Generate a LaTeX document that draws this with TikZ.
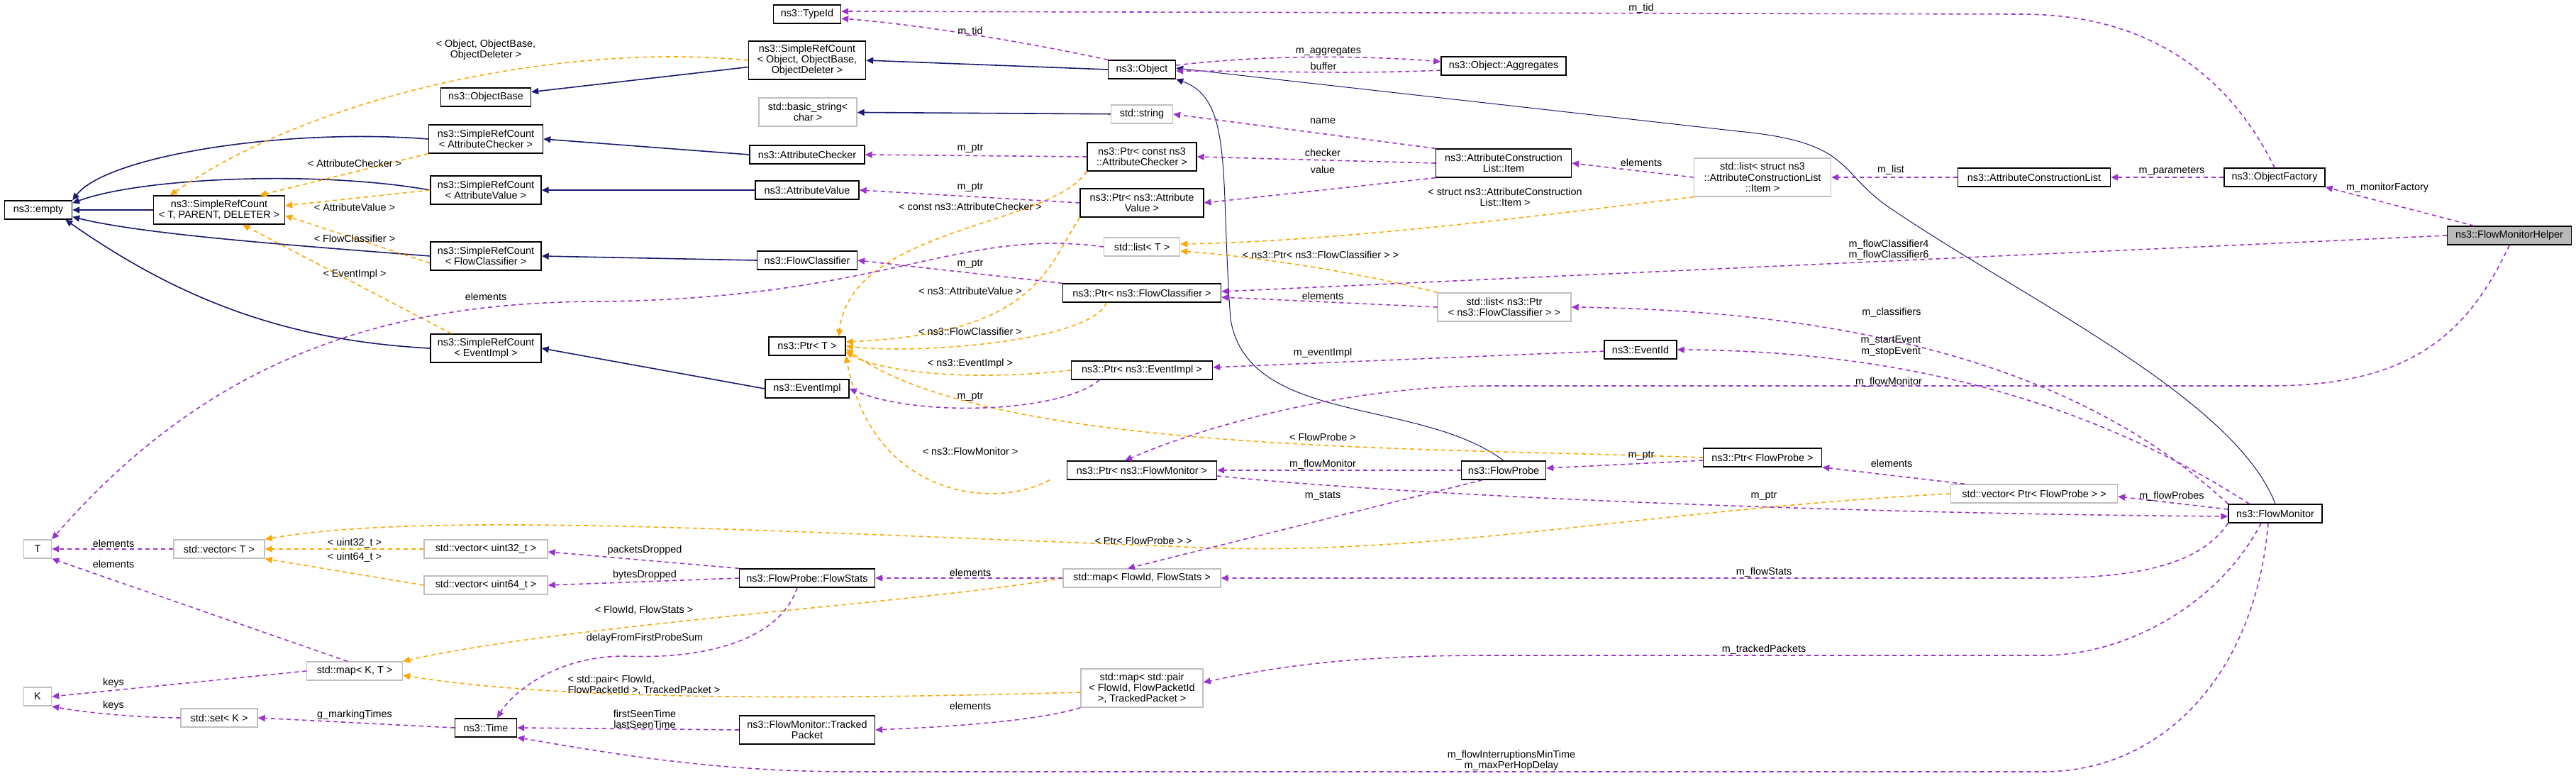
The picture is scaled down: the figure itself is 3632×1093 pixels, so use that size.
\documentclass[tikz,border=0pt]{standalone}
\usepackage{fontspec}
\setmainfont{Liberation Sans}
\usetikzlibrary{arrows.meta}
\definecolor{navy}{HTML}{191970}
\definecolor{purp}{HTML}{9A32CD}
\definecolor{orng}{HTML}{FFA500}
\newcommand\fs{\fontsize{7.2}{7.6}\selectfont}
\tikzset{
 cls/.style={draw=black, fill=white, font=\fs, align=center, inner sep=1pt, line width=0.7pt},
 gcls/.style={cls, draw=black!25},
 one/.style={minimum height=13pt},
 two/.style={minimum height=20pt},
 three/.style={minimum height=27pt},
 lab/.style={font=\fs, inner sep=0pt, align=center},
 tip/.style={-{Triangle[length=5pt,width=4.5pt]}},
 inhline/.style={tip, draw=navy, line width=0.8pt},
 thininh/.style={tip, draw=navy, line width=0.5pt},
 useline/.style={tip, draw=purp, line width=0.8pt, dash pattern=on 3pt off 2.5pt},
 tplline/.style={tip, draw=orng, line width=0.8pt, dash pattern=on 3pt off 2.5pt},
}
\begin{document}
\begin{tikzpicture}[x=0.5pt,y=-0.5pt]
\useasboundingbox[fill=white] (0,0) rectangle (3632,1093);
% inheritance
\path (0,0);
\begin{scope}[on background layer/.style={}]
\end{scope}
% nodes
\node[cls,one,minimum width=47.5pt] (empty) at (54,296) {ns3::empty};
\node[cls,two,minimum width=92.5pt] (srcTPD) at (309,296) {ns3::SimpleRefCount\\< T, PARENT, DELETER >};
\node[cls,one,minimum width=63.5pt] (ObjectBase) at (685,137) {ns3::ObjectBase};
\node[cls,three,minimum width=82.5pt] (srcObj) at (1138,85) {ns3::SimpleRefCount\\< Object, ObjectBase,\\ObjectDeleter >};
\node[cls,one,minimum width=47.5pt] (TypeId) at (1138,20) {ns3::TypeId};
\node[gcls,two,minimum width=69pt] (basicstr) at (1139,158) {std::basic\_string<\\char >};
\node[cls,two,minimum width=80.5pt] (srcAC) at (685,196) {ns3::SimpleRefCount\\< AttributeChecker >};
\node[cls,one,minimum width=81pt] (AC) at (1138,218) {ns3::AttributeChecker};
\node[cls,two,minimum width=78pt] (srcAV) at (685,268) {ns3::SimpleRefCount\\< AttributeValue >};
\node[cls,one,minimum width=73pt] (AV) at (1138,268) {ns3::AttributeValue};
\node[cls,two,minimum width=78pt] (srcFC) at (685,361) {ns3::SimpleRefCount\\< FlowClassifier >};
\node[cls,one,minimum width=70.5pt] (FC) at (1138,367) {ns3::FlowClassifier};
\node[cls,two,minimum width=78pt] (srcEI) at (685,491) {ns3::SimpleRefCount\\< EventImpl >};
\node[cls,one,minimum width=54pt] (PtrT) at (1138,488) {ns3::Ptr< T >};
\node[cls,one,minimum width=59pt] (EI) at (1138,548) {ns3::EventImpl};
\node[cls,one,minimum width=47.5pt] (Object) at (1610,98) {ns3::Object};
\node[cls,one,minimum width=88pt] (Aggr) at (2120,93) {ns3::Object::Aggregates};
\node[gcls,one,minimum width=43.5pt] (string) at (1610,161) {std::string};
\node[cls,two,minimum width=77pt] (PtrCAC) at (1610,221) {ns3::Ptr< const ns3\\::AttributeChecker >};
\node[cls,two,minimum width=87pt] (PtrAV) at (1610,286) {ns3::Ptr< ns3::Attribute\\Value >};
\node[cls,two,minimum width=95.5pt] (Item) at (2120,230) {ns3::AttributeConstruction\\List::Item};
\node[gcls,one,minimum width=53.5pt] (listT) at (1610,348) {std::list< T >};
\node[cls,one,minimum width=111.5pt] (PtrFC) at (1610,413) {ns3::Ptr< ns3::FlowClassifier >};
\node[gcls,two,minimum width=94pt] (listPFC) at (2121,433) {std::list< ns3::Ptr\\< ns3::FlowClassifier > >};
\node[cls,one,minimum width=51pt] (EventId) at (2313,493) {ns3::EventId};
\node[cls,one,minimum width=99.5pt] (PtrEI) at (1610,522) {ns3::Ptr< ns3::EventImpl >};
\node[gcls,three,minimum width=96.5pt] (listItem) at (2485,250) {std::list< struct ns3\\::AttributeConstructionList\\::Item >};
\node[cls,one,minimum width=107.5pt] (ACL) at (2868,250) {ns3::AttributeConstructionList};
\node[cls,one,minimum width=71pt] (OF) at (3207,250) {ns3::ObjectFactory};
\node[cls,one,minimum width=87.5pt,fill=black!27] (FMH) at (3538,332) {ns3::FlowMonitorHelper};
\node[gcls,one,minimum width=19.5pt] (T) at (53,774) {T};
\node[gcls,one,minimum width=64pt] (vecT) at (309,774) {std::vector< T >};
\node[gcls,one,minimum width=87pt] (vec32) at (685,774) {std::vector< uint32\_t >};
\node[gcls,one,minimum width=87pt] (vec64) at (685,825) {std::vector< uint64\_t >};
\node[cls,one,minimum width=95.5pt] (FlowStats) at (1138,815) {ns3::FlowProbe::FlowStats};
\node[gcls,one,minimum width=67.5pt] (mapKT) at (500,946) {std::map< K, T >};
\node[gcls,one,minimum width=19.5pt] (K) at (53,982) {K};
\node[gcls,one,minimum width=54pt] (setK) at (309,1012) {std::set< K >};
\node[cls,one,minimum width=43.5pt] (Time) at (685,1026) {ns3::Time};
\node[cls,two,minimum width=95.5pt] (TP) at (1138,1029) {ns3::FlowMonitor::Tracked\\Packet};
\node[cls,one,minimum width=105.5pt] (PtrFM) at (1610,663) {ns3::Ptr< ns3::FlowMonitor >};
\node[cls,one,minimum width=59.5pt] (FP) at (2120,663) {ns3::FlowProbe};
\node[gcls,one,minimum width=111pt] (mapFS) at (1610,815) {std::map< FlowId, FlowStats >};
\node[gcls,three,minimum width=86pt] (mapPair) at (1610,970) {std::map< std::pair\\< FlowId, FlowPacketId\\>, TrackedPacket >};
\node[cls,one,minimum width=83.5pt] (PtrFP) at (2485,645) {ns3::Ptr< FlowProbe >};
\node[gcls,one,minimum width=117.5pt] (vecPFP) at (2868,696) {std::vector< Ptr< FlowProbe > >};
\node[cls,one,minimum width=66pt] (FM) at (3208,724) {ns3::FlowMonitor};
% inheritance
\draw[inhline] (srcObj) -- (ObjectBase);
\draw[inhline] (Object.west) -- (srcObj.east);
\draw[inhline] (string) -- (basicstr);
\draw[inhline] (AC.west) -- (srcAC.east);
\draw[inhline] (AV) -- (srcAV);
\draw[inhline] (FC.west) -- (srcFC.east);
\draw[inhline] (EI.west) -- (srcEI.east);
\draw[inhline] (srcTPD) -- (empty);
\draw[inhline] (srcAC.west) .. controls (400,180) and (150,220) .. (empty.north east);
\draw[inhline] (srcAV.west) .. controls (450,240) and (200,250) .. ([yshift=-2pt]empty.north east);
\draw[inhline] (srcFC.west) .. controls (400,345) and (200,330) .. ([yshift=2pt]empty.south east);
\draw[inhline] (srcEI.west) .. controls (400,480) and (250,420) .. ([xshift=-5pt]empty.south east);
\draw[thininh] (FP.north) .. controls (2000,560) and (1760,600) .. (1735,450) .. controls (1720,250) and (1740,140) .. (Object.south east);
\draw[thininh] (FM.north) .. controls (3150,560) and (2850,420) .. (2660,290) .. controls (2590,240) and (2610,200) .. (2450,185) -- ([yshift=1pt]Object.east);
% template
\draw[tplline] (srcObj.west) .. controls (800,60) and (450,130) .. ([xshift=12pt]srcTPD.north west);
\draw[tplline] (srcAC.south west) -- ([xshift=-18pt]srcTPD.north east);
\draw[tplline] (srcAV.west) -- ([yshift=3pt]srcTPD.east);
\draw[tplline] ([yshift=-5pt]srcFC.west) -- ([yshift=-4pt]srcTPD.east);
\draw[tplline] ([xshift=15pt]srcEI.north west) -- ([xshift=-30pt]srcTPD.south east);
\draw[tplline] (PtrCAC.south west) .. controls (1480,320) and (1200,320) .. ([xshift=-5pt]PtrT.north east);
\draw[tplline] (PtrAV.south west) .. controls (1475,380) and (1460,470) .. ([yshift=3pt]PtrT.east);
\draw[tplline] ([xshift=-25pt]PtrFC.south) .. controls (1540,480) and (1300,500) .. (PtrT.east);
\draw[tplline] (PtrEI.west) .. controls (1350,540) and (1230,520) .. ([yshift=3pt]PtrT.south east);
\draw[tplline] ([xshift=-12pt]PtrFM.south west) .. controls (1400,720) and (1230,700) .. (PtrT.south east);
\draw[tplline] (PtrFP.west) .. controls (2000,630) and (1400,640) .. ([yshift=-2pt]PtrT.east);
\draw[tplline] (listItem.south west) .. controls (2200,300) and (1900,340) .. ([yshift=2pt]listT.east);
\draw[tplline] (listPFC.north west) .. controls (1900,380) and (1750,360) .. ([yshift=-3pt]listT.east);
\draw[tplline] (vecPFP.west) .. controls (2300,720) and (2000,790) .. (1650,770) .. controls (1100,750) and (600,720) .. (vecT.north east);
\draw[tplline] (vec32) -- (vecT);
\draw[tplline] (vec64.west) -- (vecT.south east);
\draw[tplline] (mapFS.west) .. controls (1300,850) and (800,880) .. (mapKT.north east);
\draw[tplline] ([yshift=-3pt]mapPair.west) .. controls (1200,985) and (800,990) .. ([yshift=-3pt]mapKT.east);
% usage
\draw[useline] (Object.north west) .. controls (1450,60) and (1300,35) .. ([yshift=-3pt]TypeId.east);
\draw[useline] (OF.north) .. controls (3130,80) and (3000,20) .. (2850,20) -- ([yshift=2pt]TypeId.east);
\draw[useline] ([yshift=3pt]Object.east) .. controls (1800,75) and (1950,80) .. ([yshift=3pt]Aggr.west);
\draw[useline] ([yshift=-3pt]Aggr.west) .. controls (1900,105) and (1800,100) .. ([yshift=-1pt]Object.east);
\draw[useline] (Item.north west) -- (string.east);
\draw[useline] (Item.west) -- (PtrCAC.east);
\draw[useline] (Item.south west) -- (PtrAV.east);
\draw[useline] (PtrCAC.west) -- (AC.east);
\draw[useline] (PtrAV.west) -- (AV.east);
\draw[useline] (PtrFC.north west) -- (FC.east);
\draw[useline] ([xshift=-30pt]PtrEI.south) .. controls (1500,580) and (1300,590) .. (EI.east);
\draw[useline] (listT.west) .. controls (1350,320) and (1250,420) .. (850,425) .. controls (550,425) and (300,500) .. (T.north east);
\draw[useline] (listItem.west) -- (Item.east);
\draw[useline] (ACL) -- (listItem);
\draw[useline] (OF) -- (ACL);
\draw[useline] ([xshift=-25pt]FMH.north) -- (OF.south east);
\draw[useline] (FMH.west) -- ([yshift=1pt]PtrFC.east);
\draw[useline] (FMH.south) .. controls (3480,470) and (3400,544) .. (3200,544) -- (2100,544) .. controls (1900,544) and (1700,600) .. ([xshift=-12pt]PtrFM.north);
\draw[useline] (listPFC.west) -- ([yshift=-3pt]PtrFC.east);
\draw[useline] (FM.north west) .. controls (3000,580) and (2750,440) .. (listPFC.east);
\draw[useline] ([xshift=15pt]FM.north west) .. controls (3000,600) and (2750,495) .. (EventId.east);
\draw[useline] (EventId) -- (PtrEI);
\draw[useline] (FP) -- (PtrFM);
\draw[useline] (PtrFP) -- (FP);
\draw[useline] ([xshift=10pt]vecPFP.north west) -- (PtrFP.south east);
\draw[useline] ([yshift=3pt]FM.west) -- ([yshift=-2pt]vecPFP.east);
\draw[useline] ([yshift=-4pt]PtrFM.east) .. controls (2000,700) and (2600,724) .. ([yshift=-2pt]FM.west);
\draw[useline] ([xshift=-15pt]FP.south) -- ([xshift=-10pt]mapFS.north);
\draw[useline] (mapFS) -- (FlowStats);
\draw[useline] (FM.south west) .. controls (3100,800) and (3000,815) .. (2880,815) -- (mapFS.east);
\draw[useline] ([xshift=-10pt]FM.south) .. controls (3130,850) and (3000,924) .. (2880,924) -- (2100,924) .. controls (1900,924) and (1800,940) .. ([yshift=4pt]mapPair.east);
\draw[useline] (mapPair.south west) .. controls (1450,1020) and (1300,1026) .. (TP.east);
\draw[useline] (FlowStats.north west) -- ([yshift=-2pt]vec32.east);
\draw[useline] (FlowStats.west) -- (vec64.east);
\draw[useline] ([xshift=-7pt]FlowStats.south) .. controls (1100,900) and (1000,930) .. (880,925) .. controls (780,925) and (720,980) .. ([xshift=8pt]Time.north);
\draw[useline] (TP.west) -- (Time.east);
\draw[useline] ([xshift=-5pt]FM.south) .. controls (3180,950) and (3050,1088) .. (2880,1088) -- (1200,1088) .. controls (1000,1088) and (850,1060) .. (Time.south east);
\draw[useline] (Time.west) -- (setK.east);
\draw[useline] (vecT) -- (T);
\draw[useline] ([xshift=-5pt]mapKT.north) -- (T.south east);
\draw[useline] (mapKT.west) -- (K.east);
\draw[useline] (setK.west) .. controls (200,1012) and (120,1005) .. (K.south east);
% labels
\node[lab] (l1) at (685,70) {< Object, ObjectBase,\\ObjectDeleter >};
\node[lab] (l2) at (500,230) {< AttributeChecker >};
\node[lab] (l3) at (500,292) {< AttributeValue >};
\node[lab] (l4) at (500,336) {< FlowClassifier >};
\node[lab] (l5) at (500,387) {< EventImpl >};
\node[lab] (l6) at (1368,291) {< const ns3::AttributeChecker >};
\node[lab] (l7) at (1368,410) {< ns3::AttributeValue >};
\node[lab] (l8) at (1368,467) {< ns3::FlowClassifier >};
\node[lab] (l9) at (1368,513) {< ns3::EventImpl >};
\node[lab] (l10) at (1368,636) {< ns3::FlowMonitor >};
\node[lab] (l11) at (1865,616) {< FlowProbe >};
\node[lab] (l12) at (2122,278) {< struct ns3::AttributeConstruction\\List::Item >};
\node[lab] (l13) at (1862,359) {< ns3::Ptr< ns3::FlowClassifier > >};
\node[lab] (l14) at (1612,762) {< Ptr< FlowProbe > >};
\node[lab] (l15) at (500,766) {< uint32\_t >};
\node[lab] (l16) at (500,786) {< uint64\_t >};
\node[lab] (l17) at (908,860) {< FlowId, FlowStats >};
\node[lab,align=left] (l18) at (908,966) {< std::pair< FlowId,\\FlowPacketId >, TrackedPacket >};
\node[lab] (u1) at (1368,45) {m\_tid};
\node[lab] (u2) at (2314,12) {m\_tid};
\node[lab] (u3) at (1873,72) {m\_aggregates};
\node[lab] (u4) at (1866,93) {buffer};
\node[lab] (u5) at (1865,171) {name};
\node[lab] (u6) at (1865,215) {checker};
\node[lab] (u7) at (1865,239) {value};
\node[lab] (u8) at (1368,209) {m\_ptr};
\node[lab] (u9) at (1368,264) {m\_ptr};
\node[lab] (u10) at (1368,372) {m\_ptr};
\node[lab] (u11) at (1368,559) {m\_ptr};
\node[lab] (u12) at (685,418) {elements};
\node[lab] (u13) at (2314,229) {elements};
\node[lab] (u14) at (2666,240) {m\_list};
\node[lab] (u15) at (3062,241) {m\_parameters};
\node[lab] (u16) at (3366,265) {m\_monitorFactory};
\node[lab] (u17) at (2663,352) {m\_flowClassifier4\\m\_flowClassifier6};
\node[lab] (u18) at (2663,539) {m\_flowMonitor};
\node[lab] (u19) at (1865,417) {elements};
\node[lab] (u20) at (2667,441) {m\_classifiers};
\node[lab] (u21) at (2666,488) {m\_startEvent\\m\_stopEvent};
\node[lab] (u22) at (1865,498) {m\_eventImpl};
\node[lab] (u23) at (1865,655) {m\_flowMonitor};
\node[lab] (u24) at (2314,642) {m\_ptr};
\node[lab] (u25) at (2667,653) {elements};
\node[lab] (u26) at (3062,700) {m\_flowProbes};
\node[lab] (u27) at (2487,699) {m\_ptr};
\node[lab] (u28) at (1865,699) {m\_stats};
\node[lab] (u29) at (1368,807) {elements};
\node[lab] (u30) at (2487,807) {m\_flowStats};
\node[lab] (u31) at (2487,916) {m\_trackedPackets};
\node[lab] (u32) at (1368,995) {elements};
\node[lab] (u33) at (909,776) {packetsDropped};
\node[lab] (u34) at (909,811) {bytesDropped};
\node[lab] (u35) at (909,900) {delayFromFirstProbeSum};
\node[lab] (u36) at (909,1014) {firstSeenTime\\lastSeenTime};
\node[lab] (u37) at (2131,1072) {m\_flowInterruptionsMinTime\\m\_maxPerHopDelay};
\node[lab] (u38) at (500,1008) {g\_markingTimes};
\node[lab] (u39) at (160,766) {elements};
\node[lab] (u40) at (160,795) {elements};
\node[lab] (u41) at (160,963) {keys};
\node[lab] (u42) at (160,995) {keys};
\end{tikzpicture}
\end{document}
